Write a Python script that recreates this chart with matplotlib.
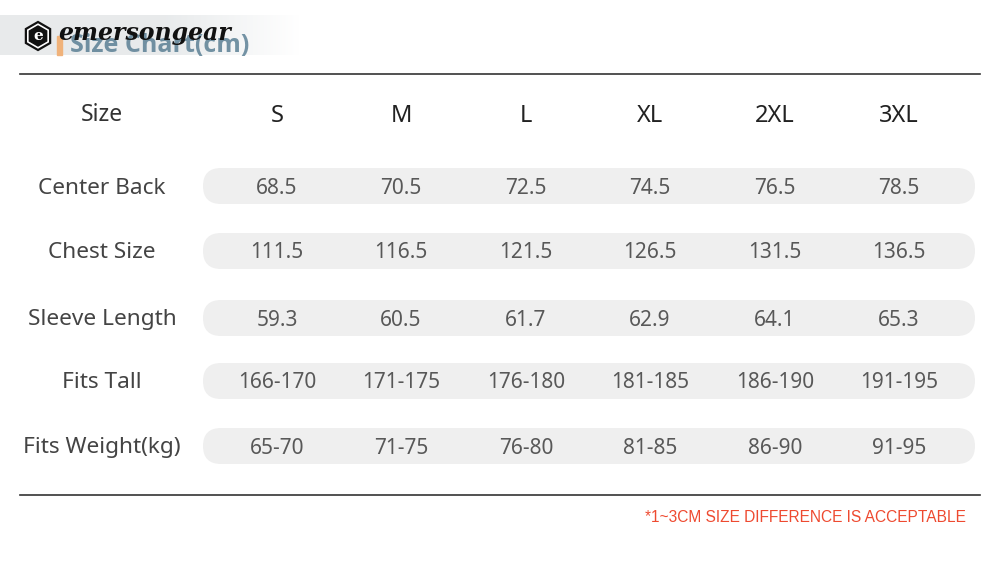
import numpy as np
import matplotlib
matplotlib.use("Agg")
import matplotlib.pyplot as plt
from matplotlib.patches import FancyBboxPatch, RegularPolygon

sizes = ["S", "M", "L", "XL", "2XL", "3XL"]
row_labels = ["Center Back", "Chest Size", "Sleeve Length", "Fits Tall", "Fits Weight(kg)"]
center_back = ["68.5", "70.5", "72.5", "74.5", "76.5", "78.5"]
chest_size = ["111.5", "116.5", "121.5", "126.5", "131.5", "136.5"]
sleeve_length = ["59.3", "60.5", "61.7", "62.9", "64.1", "65.3"]
fits_tall = ["166-170", "171-175", "176-180", "181-185", "186-190", "191-195"]
fits_weight = ["65-70", "71-75", "76-80", "81-85", "86-90", "91-95"]
rows = [center_back, chest_size, sleeve_length, fits_tall, fits_weight]
note = "*1~3CM SIZE DIFFERENCE IS ACCEPTABLE"

FONT = "Noto Sans"
col_x = [277, 401, 526, 650, 775, 899]
row_y = [186, 251, 318, 381, 446]

fig = plt.figure(figsize=(10, 5.86), dpi=100)
ax = fig.add_axes([0, 0, 1, 1])
ax.set_xlim(0, 1000)
ax.set_ylim(586, 0)
ax.axis("off")

# header band fading to white on the right
grad = np.linspace(0, 1, 300)
band = np.ones((2, 300, 3))
base = np.array([0.91, 0.92, 0.925])
for i, t in enumerate(grad):
    w = min(1.0, max(0.0, (t - 0.55) / 0.45))
    band[:, i, :] = base * (1 - w) + np.ones(3) * w
ax.imshow(band, extent=[0, 300, 55, 15], aspect="auto", zorder=0)

# title + logo (logo sits over the title, as in the source image)
ax.add_patch(plt.Rectangle((57, 36), 5, 19, color="#f0b27a", zorder=1))
ax.text(70, 45, "Size Chart(cm)", fontsize=18, fontweight="bold", family="Open Sans",
        color="#52798f", alpha=0.8, va="center", ha="left", zorder=2)
ax.add_patch(RegularPolygon((38, 36), 6, radius=14, facecolor="white",
                            edgecolor="#111111", lw=1.6, zorder=3))
ax.add_patch(RegularPolygon((38, 36), 6, radius=10, facecolor="#111111",
                            edgecolor="#111111", lw=1, zorder=3))
ax.text(38, 36.5, "e", fontsize=11, fontweight="bold", family="DejaVu Serif",
        color="white", ha="center", va="center", zorder=4)
ax.text(58, 33, "emersongear", fontsize=17, fontweight="bold", family="DejaVu Serif",
        style="italic", color="#111111", ha="left", va="center", zorder=4)

# rules
ax.plot([20, 980], [74, 74], color="#333333", lw=1.2)
ax.plot([20, 980], [495, 495], color="#333333", lw=1.2)

# header row
ax.text(102, 115, "Size", fontsize=16.5, family=FONT, color="#333333",
        ha="center", va="center")
for x, s in zip(col_x, sizes):
    ax.text(x, 116, s, fontsize=17, family=FONT, color="#222222",
            ha="center", va="center")

# data rows
for y, label, vals in zip(row_y, row_labels, rows):
    ax.add_patch(FancyBboxPatch((203, y - 18), 772, 36,
                                boxstyle="round,pad=0,rounding_size=18",
                                facecolor="#efefef", edgecolor="none", zorder=1))
    ax.text(102, y + 2, label, fontsize=16.3, family=FONT, color="#444444",
            ha="center", va="center", zorder=2)
    for x, v in zip(col_x, vals):
        ax.text(x, y + 2, v, fontsize=15, family=FONT, fontweight="light",
                color="#585858", ha="center", va="center", zorder=2)

ax.text(966, 517, note, fontsize=11.2, family="Liberation Sans", color="#ee4a30",
        ha="right", va="center")

fig.savefig("out.png", dpi=100)
